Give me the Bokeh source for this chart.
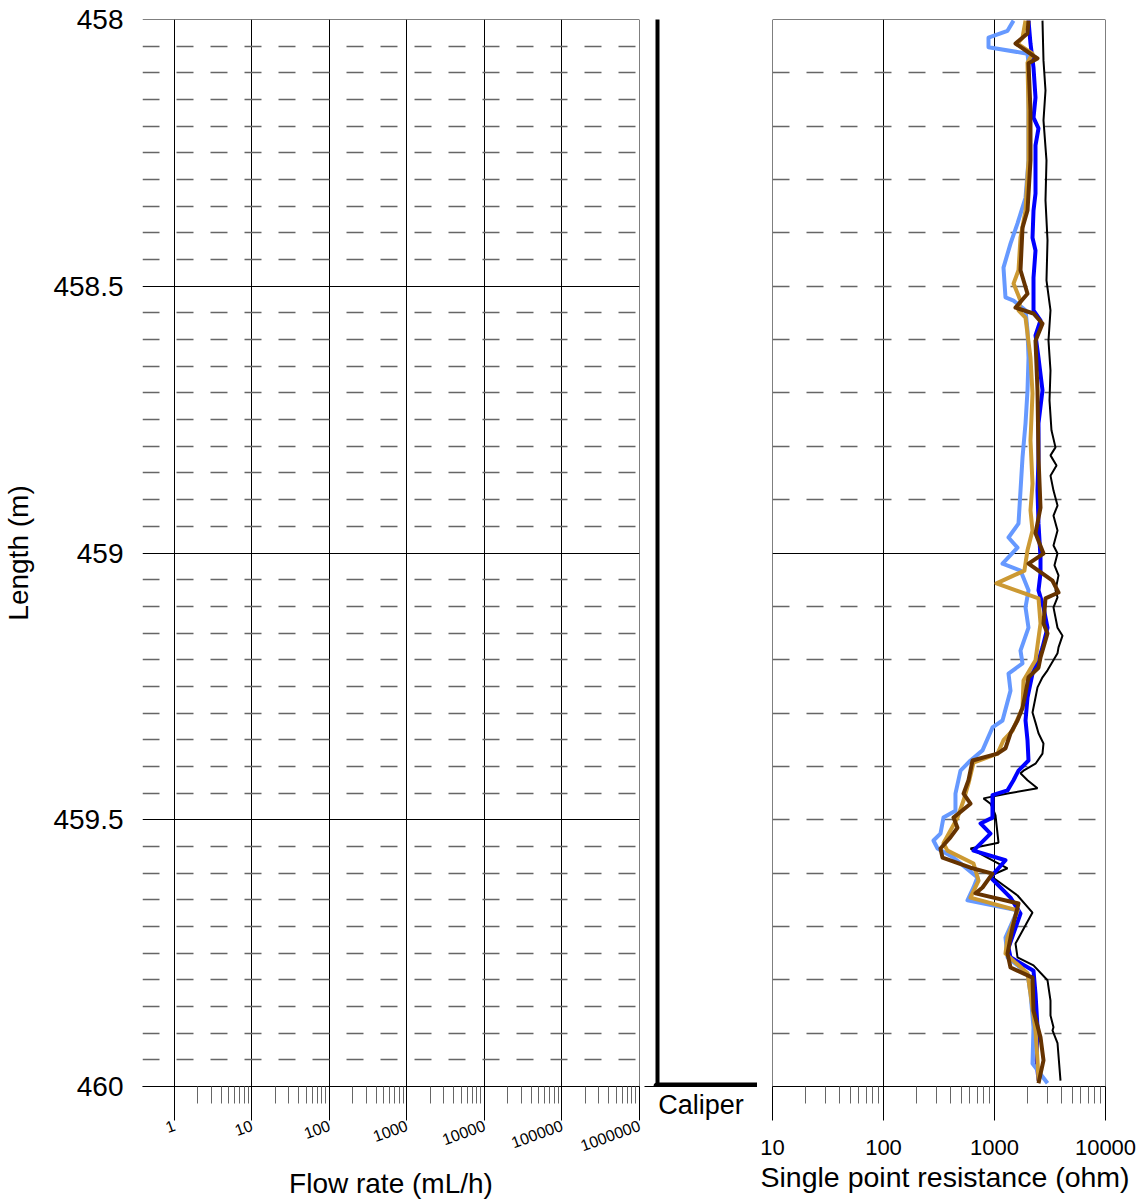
import numpy as np
from bokeh.plotting import figure
from bokeh.layouts import row
from bokeh.models import (Range1d, FixedTicker, NumeralTickFormatter, Title)
from bokeh.embed import file_html
from bokeh.resources import INLINE

FONT = "Liberation Sans"

# ---------------- ticks ----------------
depth_major_left = [458.0, 458.5, 459.0, 459.5, 460.0]
depth_minor_left = [round(458 + 0.05 * i, 2) for i in range(41) if i % 10 != 0]
depth_major_right = [458.0, 459.0, 460.0]
depth_minor_right = [round(458 + 0.1 * i, 1) for i in range(21) if i % 10 != 0]
flow_ticks = [1, 10, 100, 1000, 10000, 100000, 1000000]
flow_minor = [m * d for d in flow_ticks[:-1] for m in range(2, 10)]
res_ticks = [10, 100, 1000, 10000]
res_minor = [m * d for d in res_ticks[:-1] for m in range(2, 10)]

# ---------------- caliper ----------------
caliper_depth = [458.0, 460.0]
caliper_reading = [0.0, 0.0]
caliper_axis = [0.0, 100.0]

# ---------------- single point resistance (ohm) vs length (m) ----------------
black_depth = [458.002, 458.077, 458.133, 458.189, 458.264, 458.339, 458.414, 458.489, 458.545, 458.602,
               458.658, 458.714, 458.770, 458.802, 458.817, 458.836, 458.855, 458.883, 458.911, 458.930,
               458.958, 458.986, 459.001, 459.023, 459.042, 459.070, 459.083, 459.102, 459.140, 459.155,
               459.177, 459.188, 459.220, 459.233, 459.252, 459.271, 459.299, 459.318, 459.338, 459.357,
               459.376, 459.395, 459.408, 459.413, 459.426, 459.441, 459.451, 459.460, 459.470, 459.477,
               459.492, 459.543, 459.554, 459.591, 459.605, 459.642, 459.674, 459.698, 459.732, 459.758,
               459.773, 459.801, 459.839, 459.867, 459.889, 459.895, 459.919, 459.989]
black_res = [2706, 2763, 2880, 2763, 2940, 2880, 3003, 2940, 3195, 3065,
             3195, 3130, 3260, 3544, 3195, 3620, 3195, 3400, 3696, 3400,
             3696, 3400, 3696, 3470, 3773, 3544, 3696, 3400, 3696, 4100,
             3773, 3696, 3003, 2706, 2440, 2341, 2200, 2341, 2491, 2763,
             2706, 2341, 1825, 1715, 1983, 2440, 1310, 796, 920, 959,
             1021, 1087, 608, 1310, 920, 1612, 2200, 1903, 1546, 1612,
             2246, 3003, 3195, 3195, 3400, 3331, 3696, 3933]

blue_depth = [458.002, 458.045, 458.090, 458.146, 458.184, 458.204, 458.236, 458.270, 458.326, 458.358,
              458.409, 458.433, 458.484, 458.545, 458.564, 458.592, 458.634, 458.695, 458.757, 458.821,
              458.883, 458.945, 459.008, 459.038, 459.070, 459.102, 459.140, 459.177, 459.201, 459.226,
              459.271, 459.314, 459.351, 459.389, 459.408, 459.426, 459.445, 459.454, 459.496, 459.507,
              459.526, 459.558, 459.576, 459.608, 459.646, 459.676, 459.740, 459.758, 459.783, 459.826,
              459.889, 459.951, 459.989]
blue_res = [2025, 2110, 2246, 2341, 2246, 2491, 2341, 2341, 2341, 2246,
            2200, 2341, 2246, 2246, 2597, 2341, 2491, 2706, 2491, 2491,
            2440, 2491, 2597, 2597, 2491, 2763, 3003, 2706, 2491, 2200,
            1983, 1903, 1983, 2025, 1645, 1484, 1310, 959, 959, 748,
            920, 647, 1256, 920, 1394, 1715, 1337, 1394, 2246, 2341,
            2440, 2390, 2491]

lightblue_depth = [458.002, 458.021, 458.034, 458.052, 458.064, 458.082, 458.171, 458.264, 458.334, 458.382,
                   458.420, 458.465, 458.521, 458.527, 458.545, 458.583, 458.634, 458.695, 458.757, 458.821,
                   458.883, 458.945, 458.971, 458.990, 459.020, 459.033, 459.070, 459.102, 459.140, 459.183,
                   459.207, 459.226, 459.258, 459.314, 459.327, 459.370, 459.389, 459.408, 459.451, 459.483,
                   459.496, 459.526, 459.539, 459.554, 459.571, 459.608, 459.627, 459.651, 459.670, 459.721,
                   459.758, 459.788, 459.826, 459.889, 459.957, 459.994]
lightblue_res = [1484, 1310, 883, 883, 1983, 2025, 2025, 2025, 1903, 1612,
                 1394, 1205, 1256, 1484, 1903, 1983, 2025, 1983, 1903, 1788,
                 1715, 1645, 1337, 1612, 1181, 1715, 2025, 1903, 2025, 1715,
                 1788, 1337, 1394, 1181, 959, 780, 608, 494, 445, 445,
                 347, 326, 282, 307, 427, 703, 647, 571, 1612, 1256,
                 1310, 1983, 2110, 2246, 2200, 3003]

tan_depth = [458.002, 458.034, 458.045, 458.064, 458.081, 458.171, 458.264, 458.358, 458.409, 458.470,
             458.495, 458.527, 458.545, 458.559, 458.634, 458.701, 458.789, 458.870, 458.920, 458.958,
             458.995, 459.033, 459.057, 459.085, 459.132, 459.201, 459.239, 459.290, 459.333, 459.351,
             459.376, 459.393, 459.432, 459.464, 459.496, 459.544, 459.558, 459.582, 459.614, 459.646,
             459.670, 459.721, 459.751, 459.788, 459.826, 459.895, 459.951, 459.989]
tan_res = [1903, 1788, 1612, 2200, 1983, 2025, 2025, 1903, 1715, 1645,
           1484, 1715, 1645, 1903, 2110, 2200, 2110, 2200, 2110, 2200,
           1983, 1860, 1042, 2491, 2597, 2341, 1825, 1788, 1453, 1205,
           1064, 647, 583, 526, 464, 347, 377, 647, 718, 608,
           1612, 1310, 1256, 1983, 2110, 2341, 2440, 2491]

brown_depth = [458.002, 458.026, 458.045, 458.073, 458.082, 458.171, 458.264, 458.358, 458.390, 458.470,
               458.514, 458.540, 458.551, 458.570, 458.602, 458.695, 458.821, 458.915, 458.963, 459.001,
               459.020, 459.052, 459.074, 459.085, 459.132, 459.151, 459.196, 459.215, 459.233, 459.263,
               459.290, 459.314, 459.338, 459.366, 459.376, 459.389, 459.426, 459.451, 459.470, 459.496,
               459.515, 459.533, 459.554, 459.571, 459.590, 459.601, 459.627, 459.638, 459.657, 459.702,
               459.751, 459.777, 459.796, 459.858, 459.908, 459.951, 459.994]
brown_res = [2025, 1983, 1546, 2440, 2025, 2110, 2110, 1983, 1788, 1715,
             1983, 1546, 2246, 2706, 2341, 2440, 2491, 2597, 2341, 2763,
             2025, 3331, 3773, 2880, 2763, 3003, 2597, 2491, 2025, 1903,
             1788, 1612, 1394, 1256, 1064, 634, 583, 526, 608, 427,
             464, 401, 326, 340, 608, 959, 780, 674, 1645, 1453,
             1310, 1394, 2200, 2246, 2597, 2763, 2491]

H = 1203
TOP = 19
BOTTOM = H - 1086


def style_x_axis(ax, ticks, minor, size, orient):
    ax.ticker = FixedTicker(ticks=ticks, minor_ticks=minor)
    ax.formatter = NumeralTickFormatter(format="0")
    ax.axis_line_color = "black"
    ax.axis_line_width = 1
    ax.major_tick_out = 34
    ax.major_tick_in = 0
    ax.minor_tick_out = 17
    ax.minor_tick_in = 0
    ax.major_tick_line_color = "black"
    ax.minor_tick_line_color = "#666666"
    ax.major_label_text_font = FONT
    ax.major_label_text_font_size = size
    ax.major_label_text_color = "black"
    ax.major_label_orientation = orient
    ax.axis_label_text_font = FONT
    ax.axis_label_text_font_size = "28px"
    ax.axis_label_text_font_style = "normal"
    ax.axis_label_text_color = "black"


def base_fig(width, x_type, x_range, **kw):
    f = figure(width=width, height=H, x_axis_type=x_type, x_range=x_range,
               y_range=Range1d(460.0001, 457.9999), output_backend="svg",
               toolbar_location=None, min_border_top=TOP, min_border_bottom=BOTTOM, **kw)
    f.outline_line_color = None
    f.background_fill_color = "white"
    f.border_fill_color = "white"
    return f


# ---------------- left panel: flow rate ----------------
left = base_fig(644, "log", Range1d(0.388, 1.00001e6), min_border_left=140, min_border_right=5)

style_x_axis(left.xaxis[0], flow_ticks, flow_minor, "16px", 0.35)
left.xaxis[0].axis_label = "Flow rate (mL/h)"
left.xaxis[0].major_label_standoff = 4
left.xaxis[0].axis_label_standoff = 8
left.xaxis[0].bounds = (0.388, 1.16e6)

yax = left.yaxis[0]
yax.ticker = FixedTicker(ticks=depth_major_left, minor_ticks=[])
yax.formatter = NumeralTickFormatter(format="0.[0]")
yax.axis_line_color = None
yax.major_tick_out = 0
yax.major_tick_in = 0
yax.minor_tick_out = 0
yax.minor_tick_in = 0
yax.major_tick_line_color = None
yax.minor_tick_line_color = None
yax.major_label_text_font = FONT
yax.major_label_text_font_size = "28px"
yax.major_label_text_color = "black"
yax.major_label_standoff = 19
yax.axis_label = "Length (m)"
yax.axis_label_text_font = FONT
yax.axis_label_text_font_size = "28px"
yax.axis_label_text_font_style = "normal"
yax.axis_label_text_color = "black"
yax.axis_label_standoff = 16

left.xgrid.ticker = FixedTicker(ticks=flow_ticks, minor_ticks=[])
left.xgrid.grid_line_color = "black"
left.xgrid.grid_line_width = 1
left.ygrid.ticker = FixedTicker(ticks=depth_major_left, minor_ticks=depth_minor_left)
left.ygrid.grid_line_color = "black"
left.ygrid.grid_line_width = 1
left.ygrid.minor_grid_line_color = "#666666"
left.ygrid.minor_grid_line_width = 1.3
left.ygrid.minor_grid_line_dash = "17 17"

# ---------------- caliper track ----------------
cal = base_fig(113, "linear", Range1d(-13, 100), min_border_left=0, min_border_right=0,
               y_axis_location=None)
cal.xgrid.visible = False
cal.ygrid.visible = False
cax = cal.xaxis[0]
cax.ticker = FixedTicker(ticks=[], minor_ticks=[])
cax.axis_line_color = "black"
cax.axis_line_width = 1
cax.major_tick_out = 0
cax.major_tick_in = 0
cax.minor_tick_out = 0
cax.minor_tick_in = 0
cax.major_label_standoff = 0
cax.axis_label = "Caliper"
cax.axis_label_standoff = 3
cax.axis_label_text_font = FONT
cax.axis_label_text_font_size = "27px"
cax.axis_label_text_font_style = "normal"
cax.axis_label_text_color = "black"
cal.line(caliper_reading, caliper_depth, line_width=4, line_color="black", line_cap="round")
cal.line(caliper_axis, [caliper_depth[1], caliper_depth[1]], line_width=8,
         line_color="black", line_cap="round")

# ---------------- right panel: single point resistance ----------------
right = base_fig(387, "log", Range1d(9.9999, 10000.1), min_border_left=15, min_border_right=39,
                 y_axis_location=None)

style_x_axis(right.xaxis[0], res_ticks, res_minor, "22px", "horizontal")
right.xaxis[0].major_label_standoff = 19
right.xaxis[0].bounds = (7.33, 10000.1)
right.add_layout(Title(text="Single point resistance (ohm)", align="left", offset=-12,
                       standoff=2, text_font=FONT, text_font_size="28.5px",
                       text_font_style="normal", text_color="black"), "below")

right.xgrid.ticker = FixedTicker(ticks=res_ticks, minor_ticks=[])
right.xgrid.grid_line_color = "black"
right.xgrid.grid_line_width = 1
right.ygrid.ticker = FixedTicker(ticks=depth_major_right, minor_ticks=depth_minor_right)
right.ygrid.grid_line_color = "black"
right.ygrid.grid_line_width = 1
right.ygrid.minor_grid_line_color = "#666666"
right.ygrid.minor_grid_line_width = 1.3
right.ygrid.minor_grid_line_dash = "17 17"

right.line(black_res, black_depth, line_color="black", line_width=2)
right.line(blue_res, blue_depth, line_color="#0000FF", line_width=4, line_join="round")
right.line(lightblue_res, lightblue_depth, line_color="#6699FF", line_width=4, line_join="round")
right.line(tan_res, tan_depth, line_color="#CC9933", line_width=4, line_join="round")
right.line(brown_res, brown_depth, line_color="#663300", line_width=4, line_join="round")

layout = row(left, cal, right, spacing=0)
open("out.html", "w").write(file_html(layout, INLINE))
